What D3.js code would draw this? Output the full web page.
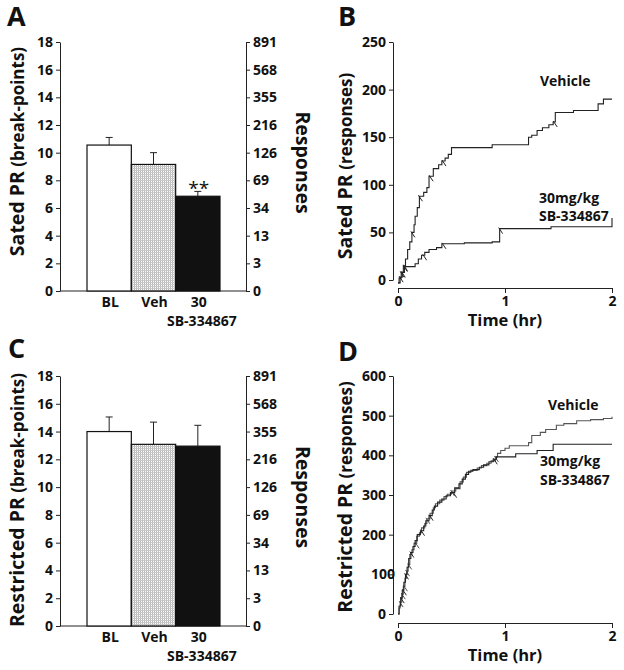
<!DOCTYPE html>
<html lang="en">
<head>
  <meta charset="UTF-8">
  <title>SB-334867 progressive ratio</title>
  <script src="https://d3js.org/d3.v7.min.js"></script>
  <style>
    body { margin: 0; background: #fff; }
    svg text { font-family: "Open Sans", "DejaVu Sans", sans-serif; font-weight: 700; fill: #111; }
    .axis path, .axis line { stroke: #222; }
    .axis text { font-size: 14px; }
  </style>
</head>
<body>
  <svg width="624" height="670"></svg>
  <script>
  // ---- data ----
  var groups = ["BL", "Veh", "30"];
  var satedBreak = [10.55, 9.15, 6.85];
  var satedErr = [0.55, 0.85, 0.35];
  var restrictedBreak = [14.0, 13.08, 12.95];
  var restrictedErr = [1.05, 1.6, 1.5];
  var breakTicks = [0, 2, 4, 6, 8, 10, 12, 14, 16, 18];
  var responseTicks = ["0", "3", "13", "34", "69", "126", "216", "355", "568", "891"];

  // cumulative responses, [hours, responses]
  var satedVehicle = [[0, -3], [0.01, 2], [0.03, 8], [0.05, 15], [0.07, 22], [0.09, 32], [0.11, 40], [0.13, 50],
    [0.15, 58], [0.16, 67], [0.18, 76], [0.2, 88], [0.24, 92], [0.27, 97], [0.29, 109], [0.33, 117], [0.38, 121],
    [0.41, 125], [0.44, 128], [0.47, 132], [0.5, 139], [0.88, 142], [1.22, 150], [1.25, 152], [1.3, 157],
    [1.35, 160], [1.41, 163], [1.45, 166], [1.47, 176], [1.64, 178], [1.87, 185], [1.92, 190], [2.0, 190]];
  var satedDrug = [[0, -3], [0.02, 3], [0.04, 8], [0.06, 14], [0.16, 17], [0.19, 22], [0.22, 26], [0.25, 29],
    [0.29, 32], [0.36, 34], [0.41, 38], [0.62, 39], [0.88, 40], [0.95, 54], [1.43, 56], [2.0, 65]];
  var restrictedVehicle = [[0, 0], [0.01, 15], [0.02, 30], [0.035, 50], [0.05, 70], [0.065, 90], [0.08, 108],
    [0.095, 125], [0.11, 150], [0.13, 162], [0.15, 178], [0.175, 196], [0.2, 205], [0.22, 217], [0.25, 228],
    [0.27, 240], [0.3, 254], [0.33, 268], [0.35, 278], [0.39, 287], [0.43, 296], [0.46, 302], [0.5, 310],
    [0.54, 316], [0.58, 333], [0.61, 345], [0.64, 357], [0.68, 362], [0.74, 368], [0.78, 374], [0.83, 380],
    [0.87, 386], [0.91, 396], [0.93, 405], [0.96, 412], [1.0, 418], [1.04, 424], [1.22, 432], [1.25, 450],
    [1.33, 458], [1.38, 465], [1.48, 476], [1.55, 480], [1.67, 487], [1.8, 490], [1.92, 493], [2.0, 497]];
  var restrictedDrug = [[0, 0], [0.01, 20], [0.025, 40], [0.04, 60], [0.055, 80], [0.07, 100], [0.085, 118],
    [0.1, 140], [0.12, 155], [0.14, 170], [0.16, 185], [0.18, 200], [0.21, 210], [0.24, 222], [0.26, 235],
    [0.29, 248], [0.32, 262], [0.34, 272], [0.37, 282], [0.41, 290], [0.45, 298], [0.49, 306], [0.53, 318],
    [0.57, 328], [0.6, 340], [0.63, 352], [0.66, 360], [0.7, 364], [0.76, 370], [0.8, 376], [0.85, 384],
    [0.89, 390], [0.92, 396], [1.1, 404], [1.3, 412], [1.45, 428], [2.0, 428]];
  // little hatch marks on the records
  var satedVehicleMarks = [0.03, 0.06, 0.13, 0.2, 0.3, 0.42, 1.46];
  var satedDrugMarks = [0.02, 0.04, 0.06, 0.24, 0.42, 0.95];
  var restrictedVehicleMarks = [0.02, 0.04, 0.06, 0.08, 0.1, 0.17, 0.27, 0.5, 0.91];
  var restrictedDrugMarks = [0.03, 0.05, 0.07, 0.12, 0.22, 0.3, 0.52, 0.9];
  var hourTicks = [0, 1, 2];

  var svg = d3.select("svg");

  // stipple for the vehicle bar
  var pat = svg.append("defs").append("pattern")
      .attr("id", "stip").attr("width", 2).attr("height", 2)
      .attr("patternUnits", "userSpaceOnUse");
  pat.append("rect").attr("width", 2).attr("height", 2).attr("fill", "#fff");
  pat.append("rect").attr("width", 1).attr("height", 2).attr("fill", "#b8b8b8");
  pat.append("rect").attr("width", 2).attr("height", 1).attr("fill", "#c8c8c8");

  function panelLetter(x, y, s) {
    svg.append("text").attr("x", x).attr("y", y).style("font-size", "27px").text(s);
  }

  function yTitle(x, y, big, small, rot) {
    var t = svg.append("g")
        .attr("transform", "translate(" + x + "," + y + ") rotate(" + rot + ")")
      .append("text")
        .attr("text-anchor", "middle");
    t.append("tspan").style("font-size", "19.5px").text(big);
    if (small) t.append("tspan").style("font-size", "17px").text(" " + small);
  }

  function barPanel(top, bottom, vals, errs, title, stars) {
    var left = 60, right = 246;
    var y = d3.scaleLinear().domain([0, 18]).range([bottom, top]);
    var x = d3.scaleBand().domain(groups).range([87, 220]).padding(0);
    var fills = ["#fff", "url(#stip)", "#111"];

    svg.append("g").attr("class", "axis")
        .attr("transform", "translate(" + left + ",0)")
        .call(d3.axisLeft(y).tickValues(breakTicks).tickSize(4).tickSizeOuter(0));
    svg.append("g").attr("class", "axis")
        .attr("transform", "translate(" + right + ",0)")
        .call(d3.axisRight(y).tickValues(breakTicks).tickSize(4).tickSizeOuter(0)
          .tickFormat(function(d, i) { return responseTicks[i]; }));
    svg.append("line").attr("x1", left).attr("x2", right)
        .attr("y1", y(0)).attr("y2", y(0)).attr("stroke", "#222");

    var g = svg.append("g");
    g.selectAll("line.err").data(vals).enter().append("line")
        .attr("stroke", "#222")
        .attr("x1", function(d, i) { return x(groups[i]) + x.bandwidth() / 2; })
        .attr("x2", function(d, i) { return x(groups[i]) + x.bandwidth() / 2; })
        .attr("y1", function(d) { return y(d); })
        .attr("y2", function(d, i) { return y(d + errs[i]); });
    g.selectAll("line.cap").data(vals).enter().append("line")
        .attr("stroke", "#222")
        .attr("x1", function(d, i) { return x(groups[i]) + x.bandwidth() / 2 - 3.5; })
        .attr("x2", function(d, i) { return x(groups[i]) + x.bandwidth() / 2 + 3.5; })
        .attr("y1", function(d, i) { return y(d + errs[i]); })
        .attr("y2", function(d, i) { return y(d + errs[i]); });
    g.selectAll("rect").data(vals).enter().append("rect")
        .attr("x", function(d, i) { return x(groups[i]); })
        .attr("y", function(d) { return y(d); })
        .attr("width", x.bandwidth())
        .attr("height", function(d) { return y(0) - y(d); })
        .attr("fill", function(d, i) { return fills[i]; })
        .attr("stroke", "#111").attr("stroke-width", 1.2);

    g.selectAll("text.cat").data(groups).enter().append("text")
        .attr("x", function(d) { return x(d) + x.bandwidth() / 2 + 1; })
        .attr("y", bottom + 16)
        .attr("text-anchor", "middle").style("font-size", "14px")
        .text(function(d) { return d; });
    svg.append("text").attr("x", x("30") + x.bandwidth() / 2 + 4).attr("y", bottom + 35)
        .attr("text-anchor", "middle").style("font-size", "14px").text("SB-334867");

    if (stars) {
      svg.append("text").attr("x", x("30") + x.bandwidth() / 2 + 1)
          .attr("y", y(vals[2] + errs[2]) + 4)
          .attr("text-anchor", "middle").style("font-size", "19px").style("font-weight", 400)
          .text("**");
    }

    yTitle(24, (top + bottom) / 2 - 15 + (title[0] === "Sated PR" ? 0 : 14), title[0], title[1], -90);
    yTitle(296, (top + bottom) / 2 - 4, "Responses", null, 90);
  }

  function valueAt(series, t) {
    var v = series[0][1];
    series.forEach(function(p) { if (p[0] <= t) v = p[1]; });
    return v;
  }

  function curvePanel(top, zeroY, axisY, ymax, ticks, records, marks, colors, title, notes, shift100) {
    var x = d3.scaleLinear().domain([0, 2]).range([398, 612]);
    var y = d3.scaleLinear().domain([0, ymax]).range([zeroY, top]);

    var ya = svg.append("g").attr("class", "axis")
        .attr("transform", "translate(393,0)")
        .call(d3.axisLeft(y).tickValues(ticks).tickSize(4).tickSizeOuter(0));
    if (shift100) ya.selectAll(".tick text").filter(function(d) { return d === 100; }).attr("dx", 9);
    var xa = svg.append("g").attr("class", "axis")
        .attr("transform", "translate(0," + axisY + ")")
        .call(d3.axisBottom(x).tickValues(hourTicks).tickSize(5).tickSizeOuter(0)
          .tickFormat(d3.format("d")));
    xa.selectAll("path, line").attr("stroke", "#666");

    var line = d3.line()
        .x(function(d) { return x(d[0]); })
        .y(function(d) { return y(d[1]); })
        .curve(d3.curveStepAfter);

    records.forEach(function(rec, k) {
      svg.append("path").datum(rec)
          .attr("fill", "none").attr("stroke", colors[k]).attr("stroke-width", 1.1)
          .attr("d", line);
      svg.append("g").selectAll("line").data(marks[k]).enter().append("line")
          .attr("stroke", colors[k]).attr("stroke-width", 1)
          .attr("x1", function(d) { return x(d) - 1; })
          .attr("y1", function(d) { return y(valueAt(rec, d)) - 1; })
          .attr("x2", function(d) { return x(d) + 3; })
          .attr("y2", function(d) { return y(valueAt(rec, d)) + 5; });
    });

    svg.append("text").attr("x", 505).attr("y", axisY + 38)
        .attr("text-anchor", "middle").style("font-size", "16.5px").text("Time (hr)");
    yTitle(352, title[2], title[0], title[1], -90);

    notes.forEach(function(n) {
      svg.append("text").attr("x", n[0]).attr("y", n[1]).style("font-size", "14px").text(n[2]);
    });
  }

  panelLetter(7, 26, "A");
  panelLetter(338, 26, "B");
  panelLetter(8, 358, "C");
  panelLetter(338, 361, "D");

  barPanel(42, 291, satedBreak, satedErr, ["Sated PR", "(break-points)"], true);
  barPanel(376, 626, restrictedBreak, restrictedErr, ["Restricted PR", "(break-points)"], false);

  curvePanel(42, 280, 288, 250, [0, 50, 100, 150, 200, 250],
    [satedVehicle, satedDrug], [satedVehicleMarks, satedDrugMarks], ["#222", "#222"],
    ["Sated PR", "(responses)", 166],
    [[540, 86, "Vehicle"], [539, 203, "30mg/kg"], [539, 221, "SB-334867"]], false);

  curvePanel(376, 614, 623, 600, [0, 100, 200, 300, 400, 500, 600],
    [restrictedVehicle, restrictedDrug], [restrictedVehicleMarks, restrictedDrugMarks], ["#555", "#222"],
    ["Restricted PR", "(responses)", 497],
    [[548, 410, "Vehicle"], [540, 466, "30mg/kg"], [540, 485, "SB-334867"]], true);
  </script>
</body>
</html>
